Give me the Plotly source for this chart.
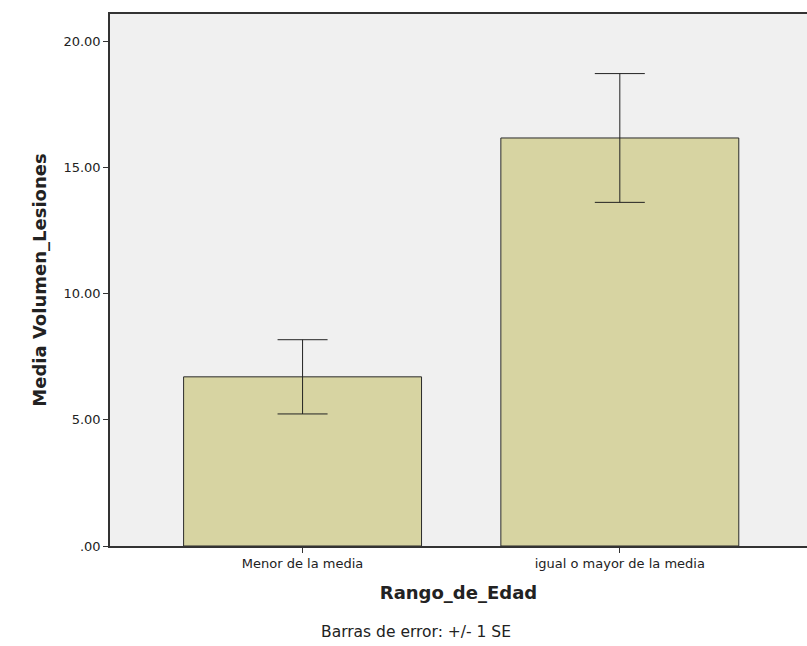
import plotly.graph_objects as go

categories = ["Menor de la media", "igual o mayor de la media"]
means = [6.70, 16.16]
se = [1.47, 2.55]
tick_vals = [0, 5, 10, 15, 20]
tick_text = [".00", "5.00", "10.00", "15.00", "20.00"]

fig = go.Figure()
fig.add_trace(go.Bar(
    x=[0, 1], y=means, width=0.75,
    marker=dict(color="#D7D4A2", line=dict(color="#2b2b2b", width=1)),
    error_y=dict(type="data", array=se, visible=True, color="#222222", thickness=1, width=25),
    hoverinfo="skip",
))

fig.update_layout(
    width=807, height=646,
    margin=dict(l=110, r=0, t=14, b=100),
    paper_bgcolor="white", plot_bgcolor="#F0F0F0",
    showlegend=False,
    font=dict(family="DejaVu Sans", color="#222222"),
    xaxis=dict(
        range=[-0.607, 1.59], tickvals=[0, 1], ticktext=categories,
        ticks="outside", ticklen=5, tickcolor="#333333",
        showline=True, linecolor="#333333", linewidth=1.5, mirror=True,
        showgrid=False, zeroline=False,
        tickfont=dict(size=13, family="DejaVu Sans"),
        title=dict(text="<b>Rango_de_Edad</b>", font=dict(size=18), standoff=16),
    ),
    yaxis=dict(
        range=[0, 21.07], tickvals=tick_vals, ticktext=tick_text,
        ticks="outside", ticklen=5, tickcolor="#333333",
        showline=True, linecolor="#333333", linewidth=1.5,
        showgrid=False, zeroline=False,
        tickfont=dict(size=13, family="DejaVu Sans"),
        title=dict(text="<b>Media Volumen_Lesiones</b>", font=dict(size=18), standoff=12),
    ),
    annotations=[dict(
        text="Barras de error: +/- 1 SE", xref="paper", yref="paper",
        x=(416 - 110) / 697, y=-(632 - 546) / 532, showarrow=False,
        font=dict(size=15.5, family="DejaVu Sans", color="#222222"),
        xanchor="center", yanchor="middle",
    )],
)

fig.write_html(
    "out.html",
    config={"displayModeBar": False},
    post_script="document.body.style.margin='0';document.body.style.padding='0';document.body.style.overflow='hidden';",
)
